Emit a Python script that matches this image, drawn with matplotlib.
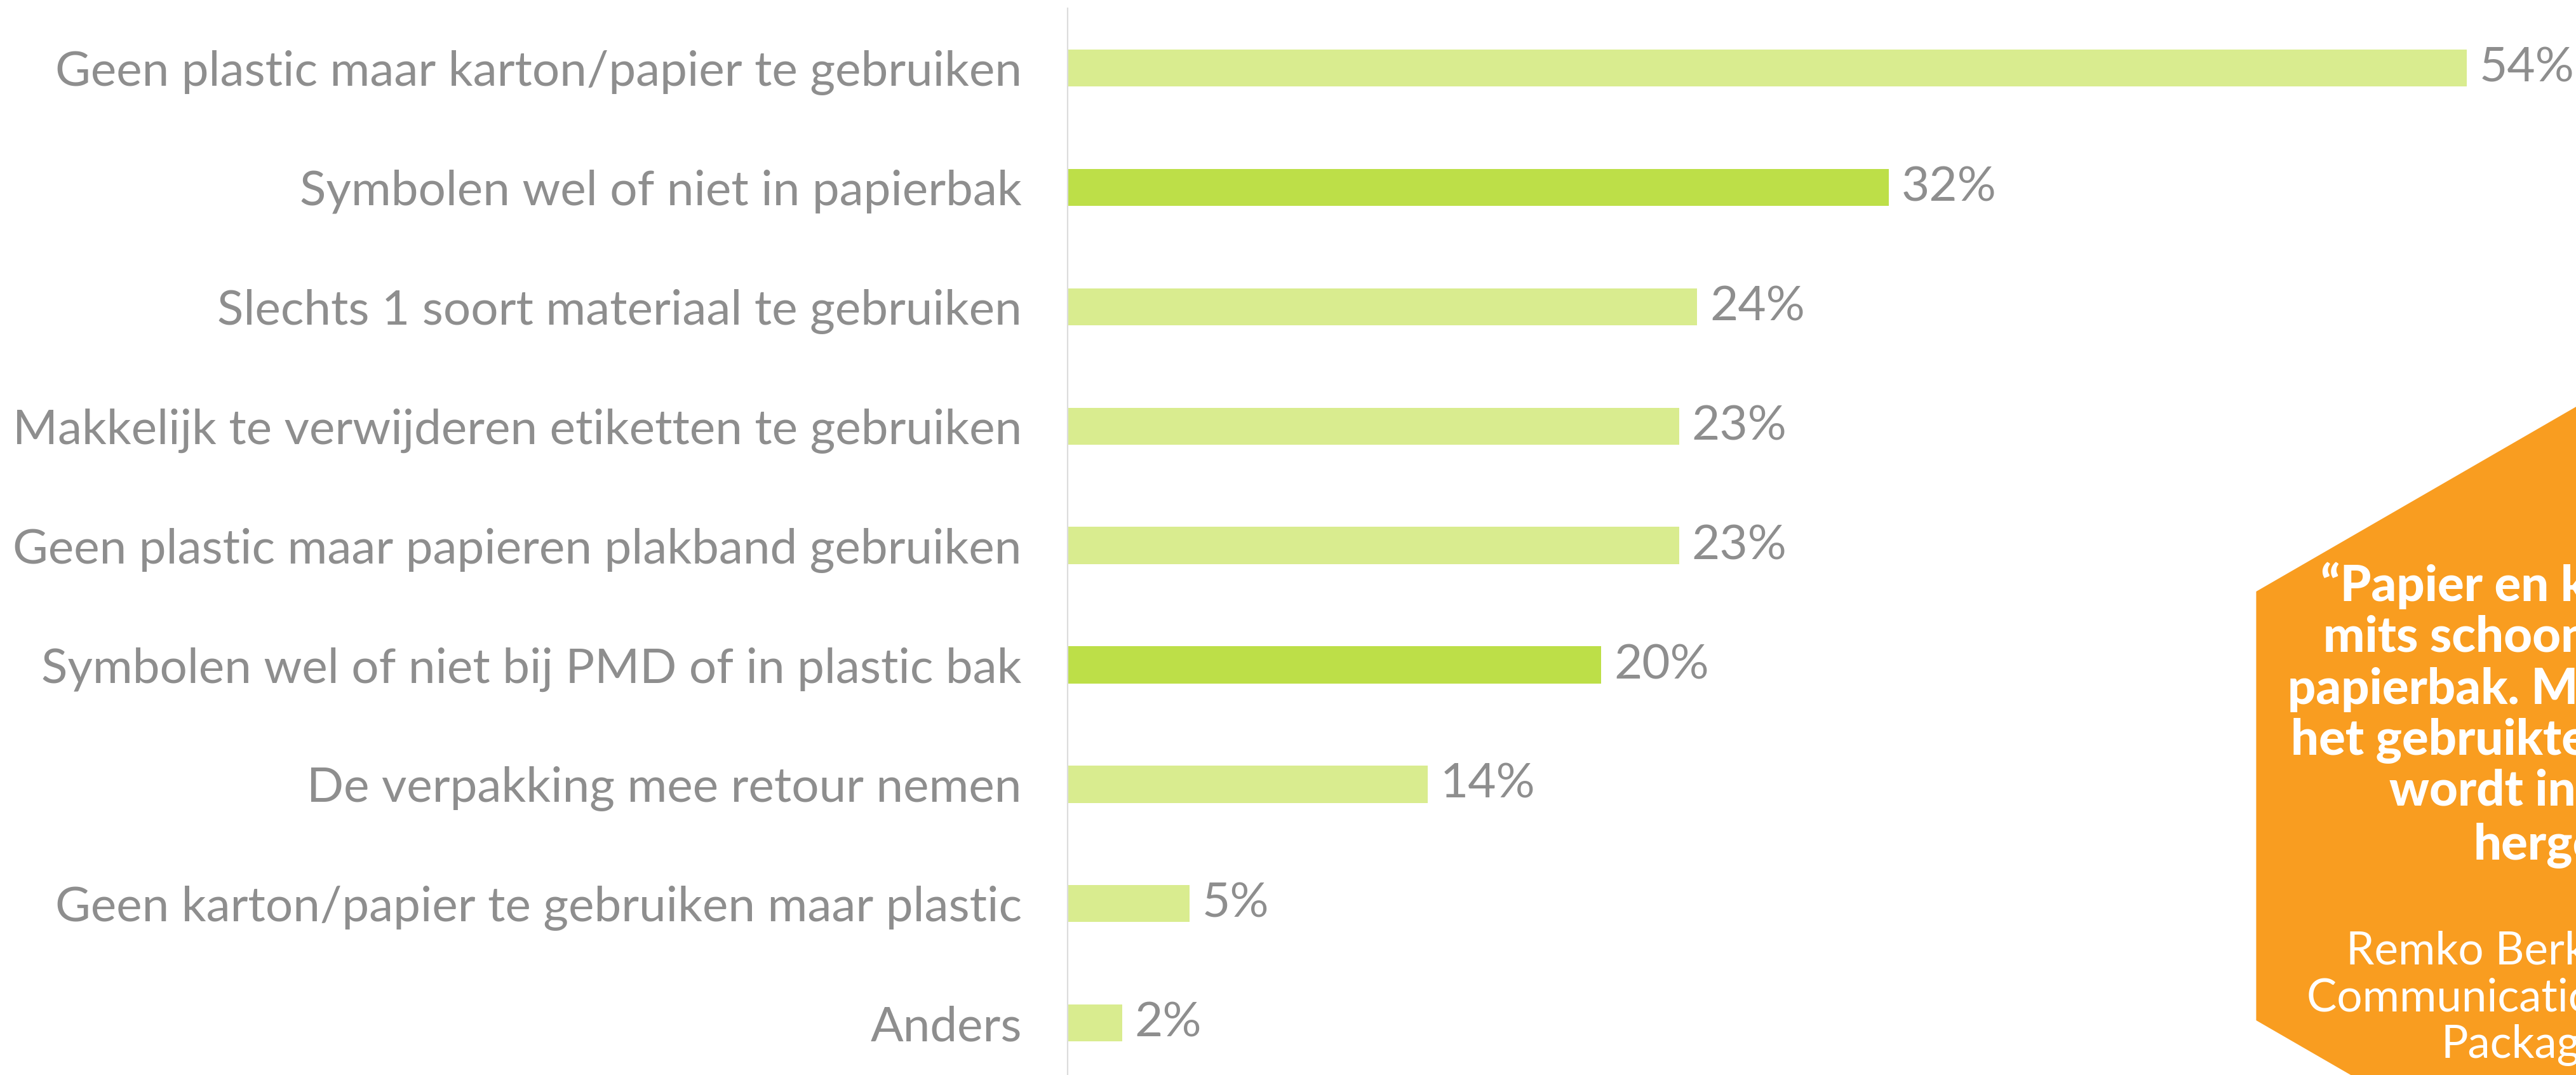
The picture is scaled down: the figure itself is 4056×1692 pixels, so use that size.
import matplotlib
matplotlib.use("Agg")
import matplotlib.pyplot as plt
from matplotlib.patches import Polygon

# -------------------------------------------------------------------------
# Data
# -------------------------------------------------------------------------
categories = [
    "Geen plastic maar karton/papier te gebruiken",
    "Symbolen wel of niet in papierbak",
    "Slechts 1 soort materiaal te gebruiken",
    "Makkelijk te verwijderen etiketten te gebruiken",
    "Geen plastic maar papieren plakband gebruiken",
    "Symbolen wel of niet bij PMD of in plastic bak",
    "De verpakking mee retour nemen",
    "Geen karton/papier te gebruiken maar plastic",
    "Anders",
]
# bar lengths (unrounded), and the printed labels
values = [54.0, 31.7, 24.3, 23.6, 23.6, 20.6, 13.9, 4.7, 2.1]
labels = ["54%", "32%", "24%", "23%", "23%", "20%", "14%", "5%", "2%"]
highlight = [False, True, False, False, False, True, False, False, False]

quote_lines = [
    "\u201cPapier en karton mag,",
    "mits schoon, in de",
    "papierbak. Maar let op dat",
    "het gebruikte plakband",
    "wordt ingezameld en",
    "hergebruikt.\u201d",
]
author_lines = ["Remko Berkhout", "Communication Manager", "Packaging"]

# -------------------------------------------------------------------------
# Stijl
# -------------------------------------------------------------------------
light_green = "#d9ec8f"
dark_green = "#bddf48"
grey = "#8e8e8e"
orange = "#f99d20"
font = ["Lato", "DejaVu Sans"]

W, H = 4056, 1692
fig = plt.figure(figsize=(W / 100, H / 100), dpi=100)

ax = fig.add_axes([1681 / W, 0, 1 - 1681 / W, 1 - 13 / H])
pos = list(range(len(categories)))
colors = [dark_green if h else light_green for h in highlight]
ax.barh(pos, values, height=0.31, color=colors, zorder=2)

ax.set_xlim(0, (W - 1681) / 40.8)
ax.set_ylim(8.435, -0.5)

for spine in ["top", "right", "bottom"]:
    ax.spines[spine].set_visible(False)
ax.spines["left"].set_color("#dcdcdc")
ax.spines["left"].set_linewidth(1.6)
ax.set_xticks([])
ax.set_yticks(pos)
ax.set_yticklabels(categories, family=font, fontweight="normal",
                   fontsize=55, color=grey)
ax.tick_params(axis="y", length=0, pad=52)

for p, v, lab in zip(pos, values, labels):
    ax.annotate(lab, (v, p), xytext=(14, 0), textcoords="offset points",
                ha="left", va="center", family=font, fontweight="normal",
                fontsize=55, color=grey, annotation_clip=False)

# -------------------------------------------------------------------------
# Oranje zeshoek met citaat
# -------------------------------------------------------------------------
ov = fig.add_axes([0, 0, 1, 1], zorder=5)
ov.set_xlim(0, W)
ov.set_ylim(H, 0)
ov.axis("off")

cx, cy, r = 4137, 1268.5, 675
hexagon = [
    (cx, cy - r),
    (cx + 0.866 * r, cy - r / 2),
    (cx + 0.866 * r, cy + r / 2),
    (cx, cy + r),
    (cx - 0.866 * r, cy + r / 2),
    (cx - 0.866 * r, cy - r / 2),
]
ov.add_patch(Polygon(hexagon, closed=True, facecolor=orange, edgecolor="none"))

quote_x = [3654, 3658, 3602, 3607, 3762, 3895]
quote_y = [946, 1026, 1108, 1188, 1268, 1353]
for t, x, y in zip(quote_lines, quote_x, quote_y):
    ov.text(x, y, t, ha="left", va="baseline", family=font,
            fontweight="black", fontsize=56, color="white")

author_x = [3694, 3632, 3843]
author_y = [1518, 1592, 1665]
for t, x, y in zip(author_lines, author_x, author_y):
    ov.text(x, y, t, ha="left", va="baseline", family=font,
            fontweight="normal", fontsize=51, color="white")

fig.savefig("out.png", dpi=100, facecolor="white")
